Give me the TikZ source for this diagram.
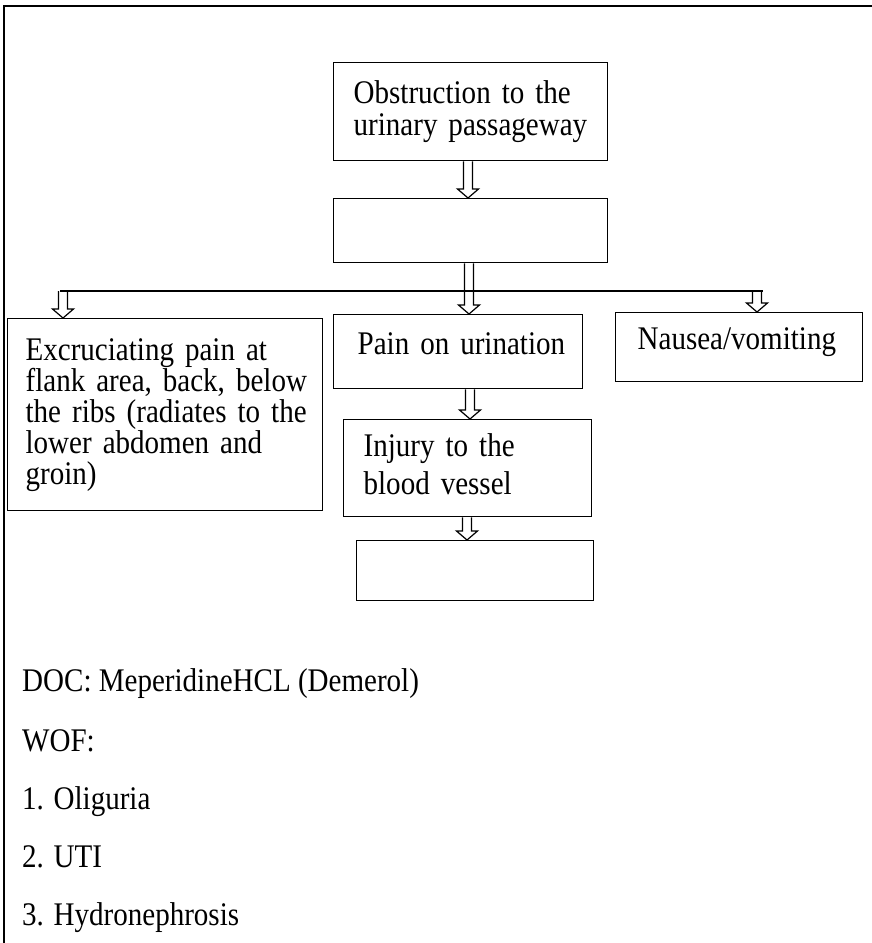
\documentclass[tikz,border=0pt]{standalone}
\usepackage{fontspec}
\setmainfont{Liberation Serif}[FakeStretch=0.88]
\usetikzlibrary{calc}
\newcommand\fs{\fontsize{33}{31}\selectfont}
\tikzset{
  box/.style={draw, line width=1.3pt, anchor=north west, inner xsep=20pt, inner ysep=0pt, align=left, font=\fs},
  arrowline/.style={draw, line width=1.2pt, line join=miter},
  plain/.style={anchor=base west, inner sep=0pt, font=\fs},
  frame/.style={line width=2pt},
  bar/.style={line width=2pt}
}
% hollow down arrow: x position, from (y), to (y)
\newcommand\hollow[3]{%
  \draw[arrowline] let \p1=#2, \p2=#3 in
    (#1pt-4.5pt,\y1) -- (#1pt-4.5pt,\y2+9pt) -- (#1pt-10.5pt,\y2+9pt) -- (#1pt,\y2)
    -- (#1pt+10.5pt,\y2+9pt) -- (#1pt+4.5pt,\y2+9pt) -- (#1pt+4.5pt,\y1);}
\begin{document}
\begin{tikzpicture}[x=1pt,y=-1pt]
\useasboundingbox (0,0) rectangle (872,943);
% outer frame (top and left)
\draw[frame] (872,6) -- (4,6) -- (4,943);
% boxes
\node[box, text width=234pt, minimum height=98pt] (b1) at (333,62) {\mbox{Obstruction to the}\\[1pt]\mbox{urinary passageway}};
\node[box, text width=234pt, minimum height=64pt] (b2) at (333,198) {};
\node[box, text width=279pt, minimum height=192pt, inner xsep=18pt] (left) at (7,318) {\mbox{Excruciating pain at}\\\mbox{flank area, back, below}\\\mbox{the ribs (radiates to the}\\\mbox{lower abdomen and}\\\mbox{groin)}};
\node[box, text width=201pt, minimum height=74pt, inner xsep=24pt] (pain) at (333,314) {\mbox{Pain on urination}\\[-14pt]\mbox{}};
\node[box, text width=203pt, minimum height=69pt, inner xsep=22pt] (naus) at (615,312) {\mbox{Nausea/vomiting}\\[-14pt]\mbox{}};
\node[box, text width=208pt, minimum height=97pt, inner xsep=20pt, font=\fontsize{33}{38}\selectfont] (inj) at (343,419) {\mbox{Injury to the}\\\mbox{blood vessel}\\[-30pt]\mbox{}};
\node[box, text width=197pt, minimum height=60pt] (b3) at (356,540) {};
% branching bar
\coordinate (hL) at (60,291);
\coordinate (hR) at (763,291);
\draw[bar] (hL) -- (hR);
% arrows
\hollow{468}{(b1.south)}{(b2.north)}
\hollow{469}{(b2.south)}{(pain.north)}
\hollow{63}{(hL)}{(left.north)}
\hollow{757}{(hR)}{(naus.north)}
\hollow{470}{(pain.south)}{(inj.north)}
\hollow{467}{(inj.south)}{(b3.north)}
% notes
\node[plain] (doc) at (22,691) {DOC: MeperidineHCL (Demerol)};
\node[plain] (wof) at (22,751) {WOF:};
\node[plain] (w1) at (22,809) {1. Oliguria};
\node[plain] (w2) at (22,867) {2. UTI};
\node[plain] (w3) at (22,925) {3. Hydronephrosis};
\end{tikzpicture}
\end{document}
